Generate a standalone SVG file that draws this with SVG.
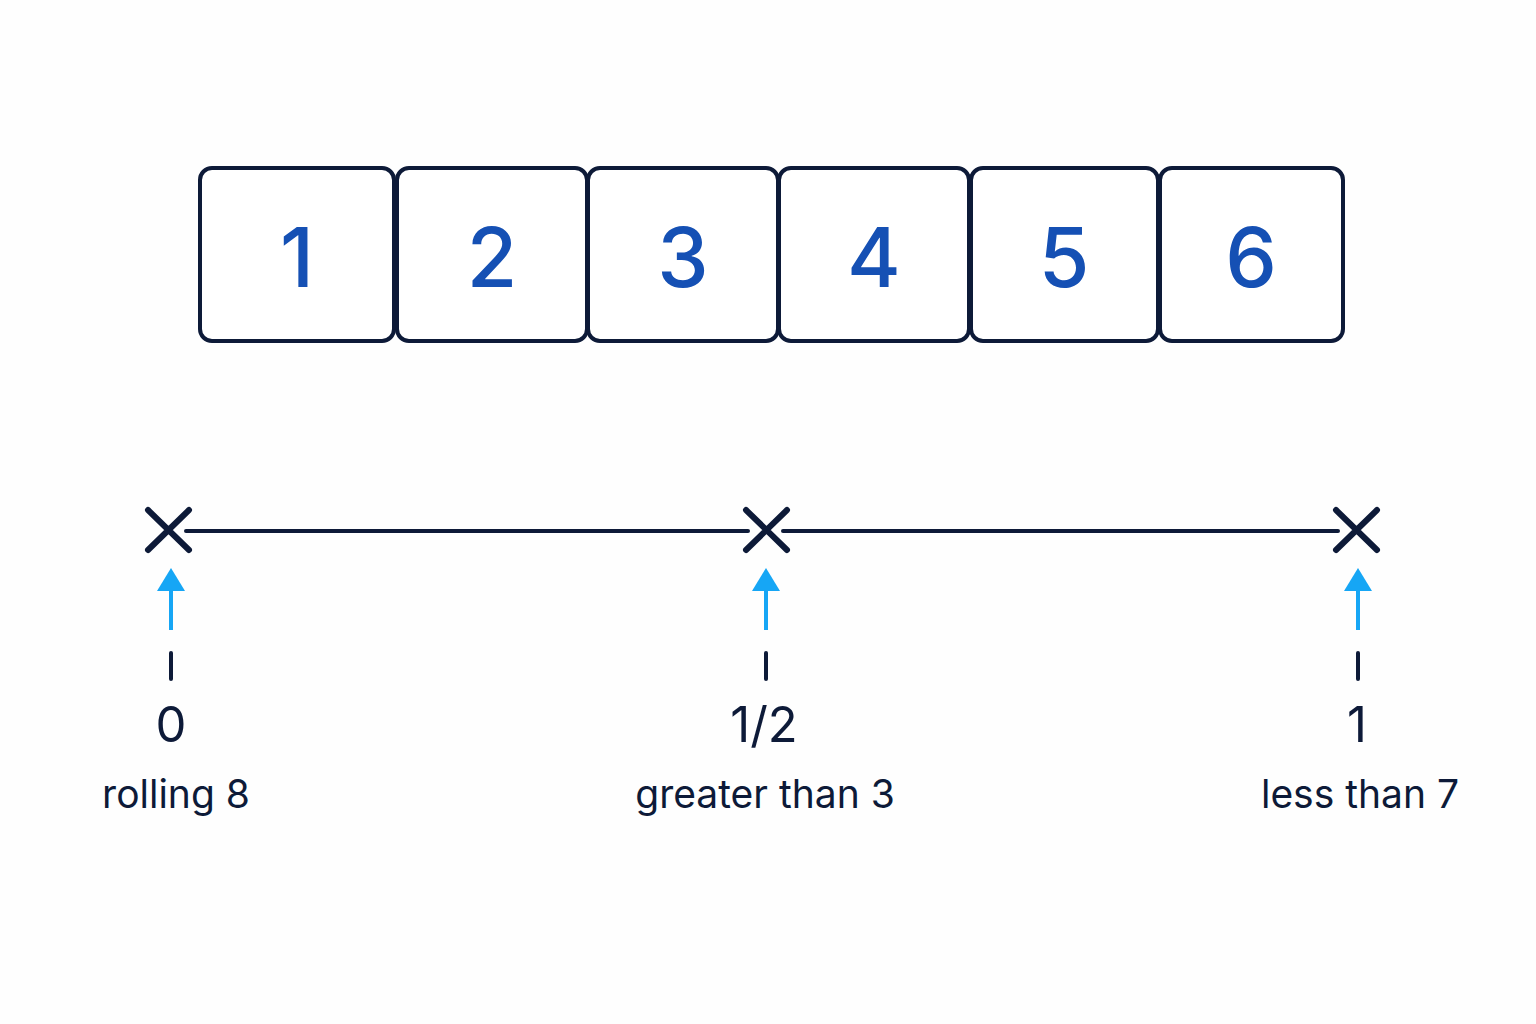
<svg xmlns="http://www.w3.org/2000/svg" width="1536" height="1024" viewBox="0 0 1536 1024">
<defs>
<style>
.box{fill:#ffffff;stroke:#0d1a38;stroke-width:4}
.num{font-family:Inter,"Liberation Sans",sans-serif;font-size:82px;font-weight:500;fill:#1550b4;text-anchor:middle}
.x{stroke:#0d1a38;stroke-width:6;stroke-linecap:round;fill:none}
.line{stroke:#0d1a38;stroke-width:4;stroke-linecap:round}
.arrow{stroke:#16a6f5;stroke-width:4}
.head{fill:#16a6f5}
.dash{stroke:#0d1a38;stroke-width:4;stroke-linecap:round}
.val{font-family:Inter,"Liberation Sans",sans-serif;font-size:49px;fill:#0d1a38;text-anchor:middle}
.lab{font-family:Inter,"Liberation Sans",sans-serif;font-size:39px;fill:#0d1a38;text-anchor:middle}
</style>
</defs>
<rect width="1536" height="1024" fill="#fefefe"/>
<g id="box1"><rect class="box" x="200" y="168" width="194" height="173" rx="12"/><text class="num" x="297" y="287">1</text></g>
<g id="box2"><rect class="box" x="397" y="168" width="190" height="173" rx="12"/><text class="num" x="492" y="287">2</text></g>
<g id="box3"><rect class="box" x="588" y="168" width="190" height="173" rx="12"/><text class="num" x="683" y="287">3</text></g>
<g id="box4"><rect class="box" x="779" y="168" width="190" height="173" rx="12"/><text class="num" x="874" y="287">4</text></g>
<g id="box5"><rect class="box" x="971" y="168" width="187" height="173" rx="12"/><text class="num" x="1064" y="287">5</text></g>
<g id="box6"><rect class="box" x="1160" y="168" width="183" height="173" rx="12"/><text class="num" x="1251" y="287">6</text></g>
<g id="connectors">
<line class="line" x1="186" y1="531" x2="748" y2="531"/>
<line class="line" x1="783" y1="531" x2="1338" y2="531"/>
</g>
<g id="mark0">
<path class="x" d="M148 510 L189 550 M189 510 L148 550"/>
<line class="arrow" x1="171" y1="590" x2="171" y2="630"/>
<polygon class="head" points="171,568 157,591 185,591"/>
<line class="dash" x1="171" y1="653" x2="171" y2="679"/>
<text class="val" x="171" y="742">0</text>
<text class="lab" x="176" y="808">rolling 8</text>
</g>
<g id="markHalf">
<path class="x" d="M746 510 L787 550 M787 510 L746 550"/>
<line class="arrow" x1="766" y1="590" x2="766" y2="630"/>
<polygon class="head" points="766,568 752,591 780,591"/>
<line class="dash" x1="766" y1="653" x2="766" y2="679"/>
<text class="val" x="764" y="742">1/2</text>
<text class="lab" x="765" y="808">greater than 3</text>
</g>
<g id="mark1">
<path class="x" d="M1336 510 L1377 550 M1377 510 L1336 550"/>
<line class="arrow" x1="1358" y1="590" x2="1358" y2="630"/>
<polygon class="head" points="1358,568 1344,591 1372,591"/>
<line class="dash" x1="1358" y1="653" x2="1358" y2="679"/>
<text class="val" x="1357" y="742">1</text>
<text class="lab" x="1360" y="808">less than 7</text>
</g>
</svg>
